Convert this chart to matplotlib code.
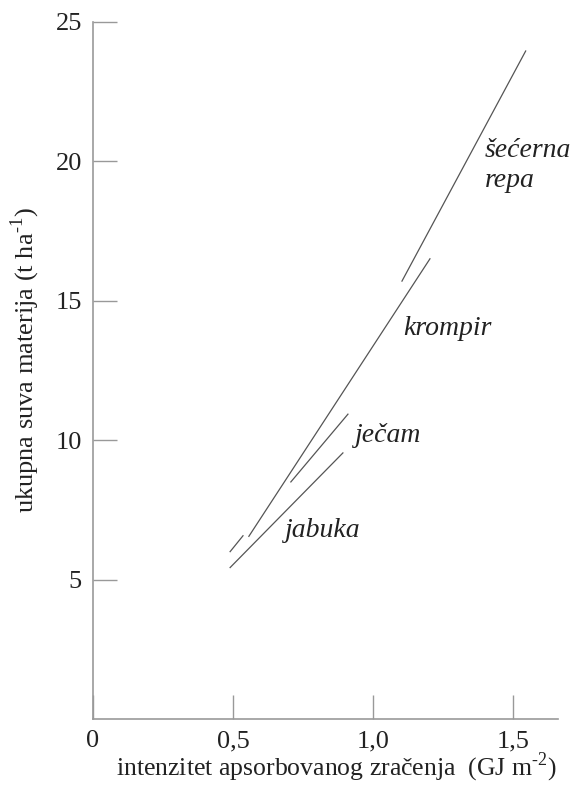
import numpy as np
import matplotlib
matplotlib.use("Agg")
import matplotlib.pyplot as plt

plt.rcParams['font.family'] = ['Liberation Serif', 'DejaVu Serif']

# ocitane krajnje tacke linija (x u GJ m-2, y u t/ha)
secerna_x = [1.104, 1.546]
secerna_y = [15.7, 23.95]
krompir_x = [0.557, 1.204]
krompir_y = [6.55, 16.5]
jecam_x = [0.49, 0.536, np.nan, 0.707, 0.911]
jecam_y = [6.0, 6.57, np.nan, 8.5, 10.93]
jabuka_x = [0.49, 0.893]
jabuka_y = [5.43, 9.54]

xticks = [0, 0.5, 1.0, 1.5]
xtick_labels = ['0', '0,5', '1,0', '1,5']
yticks = [5, 10, 15, 20, 25]

fig = plt.figure(figsize=(5.75, 7.87), dpi=100)
ax = fig.add_axes([0.1617, 0.0864, 0.808, 0.886])

lc = '#555555'
for xs, ys in [(secerna_x, secerna_y), (krompir_x, krompir_y),
               (jecam_x, jecam_y), (jabuka_x, jabuka_y)]:
    ax.plot(xs, ys, color=lc, lw=0.9)

ax.set_xlim(0, 1.66)
ax.set_ylim(0, 25)
for s in ['top', 'right']:
    ax.spines[s].set_visible(False)
for s in ['left', 'bottom']:
    ax.spines[s].set_color('#999999')
    ax.spines[s].set_linewidth(1.2)

ax.set_xticks(xticks)
ax.set_xticklabels(xtick_labels)
ax.set_yticks(yticks)
ax.tick_params(direction='in', length=17, width=1.0, color='#999999',
               labelsize=19, labelcolor='#222222', pad=8)

ax.set_xlabel('intenzitet apsorbovanog zračenja  (GJ m$^{\\mathregular{\u20102}}$)',
              fontsize=18.5, color='#222222', labelpad=-1, x=0.525)
ax.set_ylabel('ukupna suva materija (t ha$^{\\mathregular{\u20101}}$)',
              fontsize=19, color='#222222', labelpad=10, y=0.515)

tk = dict(fontsize=20, style='italic', color='#222222', va='center', ha='left')
ax.text(1.4, 20.4, 'šećerna', **tk)
ax.text(1.4, 19.3, 'repa', **tk)
ax.text(1.108, 14.0, 'krompir', **tk)
ax.text(0.935, 10.15, 'ječam', **tk)
ax.text(0.685, 6.75, 'jabuka', **tk)

fig.savefig('out.png', dpi=100)
